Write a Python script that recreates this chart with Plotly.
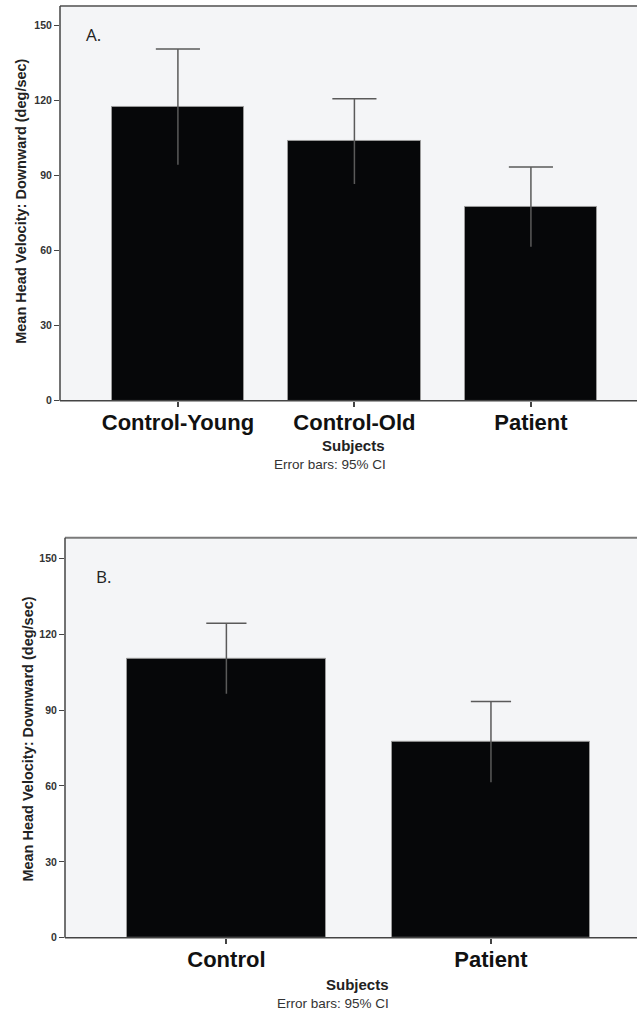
import plotly.graph_objects as go

# ---- data ----
groups_a = ["Control-Young", "Control-Old", "Patient"]
means_a = [117.3, 103.6, 77.4]
ci_hi_a = [140.5, 120.6, 93.4]
ci_lo_a = [94.3, 86.6, 61.5]

groups_b = ["Control", "Patient"]
means_b = [110.4, 77.4]
ci_hi_b = [124.3, 93.4]
ci_lo_b = [96.5, 61.5]

y_ticks = [0, 30, 60, 90, 120, 150]
y_title = "Mean Head Velocity: Downward (deg/sec)"

W, H = 637, 1019
BG = "#f4f5f7"
AX = "#444444"
EB = "#5a5a5a"

fig = go.Figure()


def add_panel(idx, groups, means, hi, lo, cap_half, bar_w):
    xa = "x" if idx == 1 else "x2"
    ya = "y" if idx == 1 else "y2"
    xs = list(range(len(groups)))
    fig.add_trace(go.Bar(
        x=xs, y=means, width=bar_w, xaxis=xa, yaxis=ya,
        marker=dict(color="#060709", line=dict(color="#9a9a9a", width=1)),
        showlegend=False, hoverinfo="skip"))
    # vertical whiskers
    fig.add_trace(go.Scatter(
        x=xs, y=means, mode="markers", xaxis=xa, yaxis=ya,
        marker=dict(size=1, color="rgba(0,0,0,0)"),
        error_y=dict(type="data", symmetric=False,
                     array=[h - m for h, m in zip(hi, means)],
                     arrayminus=[m - l for m, l in zip(means, lo)],
                     width=0, thickness=1.5, color=EB),
        showlegend=False, hoverinfo="skip"))
    # upper caps
    fig.add_trace(go.Scatter(
        x=xs, y=hi, mode="markers", xaxis=xa, yaxis=ya,
        marker=dict(size=1, color="rgba(0,0,0,0)"),
        error_x=dict(type="constant", value=cap_half, width=0,
                     thickness=1.5, color=EB),
        showlegend=False, hoverinfo="skip"))


add_panel(1, groups_a, means_a, ci_hi_a, ci_lo_a, 0.125, 0.75)
add_panel(2, groups_b, means_b, ci_hi_b, ci_lo_b, 0.076, 0.75)

# pixel layout helpers
def py(p):
    return 1 - p / H

def px(p):
    return p / W

ya_dom = [py(403), py(6)]
yb_dom = [py(943.3), py(541)]
xa_l = px(60)
xb_l = px(65)

common_y = dict(
    tickvals=y_ticks, ticktext=[f"<b>{v}</b>" for v in y_ticks],
    ticks="outside", ticklen=5, tickcolor=AX, tickwidth=1,
    tickfont=dict(family="Liberation Sans, Arial", size=10.5, color="#333"),
    showline=False, showgrid=False, zeroline=False, fixedrange=True)

common_x = dict(
    ticks="outside", ticklen=5, tickcolor=AX, tickwidth=1.5,
    ticklabelstandoff=-3,
    tickfont=dict(family="Liberation Sans, Arial", size=22, color="#111"),
    showline=False, showgrid=False, zeroline=False)

fig.update_layout(
    width=W, height=H,
    margin=dict(l=0, r=0, t=0, b=0),
    paper_bgcolor="white", plot_bgcolor=BG,
    bargap=0,
    xaxis=dict(common_x, domain=[xa_l, 1], anchor="y",
               range=[-0.668, 2.601],
               tickvals=list(range(len(groups_a))),
               ticktext=[f"<b>{g}</b>" for g in groups_a]),
    yaxis=dict(common_y, domain=ya_dom, anchor="x", range=[0, 157.7]),
    xaxis2=dict(common_x, domain=[xb_l, 1], anchor="y2",
                range=[-0.61, 1.552],
                tickvals=list(range(len(groups_b))),
                ticktext=[f"<b>{g}</b>" for g in groups_b]),
    yaxis2=dict(common_y, domain=yb_dom, anchor="x2", range=[0, 158.1]),
)

# frame lines: top (grey), left and bottom (axis lines)
for xl, dom in ((xa_l, ya_dom), (xb_l, yb_dom)):
    # the reference is cropped at the right: keep the right edge open
    fig.add_shape(type="rect", xref="paper", yref="paper", x0=1 - 3 / W, x1=1,
                  y0=dom[0] + 1 / H, y1=dom[1] - 1.5 / H,
                  fillcolor=BG, line=dict(width=0), layer="above")
    fig.add_shape(type="line", xref="paper", yref="paper", x0=xl, x1=1,
                  y0=dom[1], y1=dom[1], line=dict(color="#7a7a7a", width=2))
    fig.add_shape(type="line", xref="paper", yref="paper", x0=xl, x1=1,
                  y0=dom[0], y1=dom[0], line=dict(color=AX, width=1.5))
    fig.add_shape(type="line", xref="paper", yref="paper", x0=xl, x1=xl,
                  y0=dom[0], y1=dom[1], line=dict(color=AX, width=1.5))

ann_font = "Liberation Sans, Arial"
anns = [
    # panel A
    dict(text="<b>Subjects</b>", x=px(353), y=py(448), size=15, color="#222"),
    dict(text="Error bars: 95% CI", x=px(330), y=py(467), size=13.5, color="#333"),
    dict(text="<b>" + y_title + "</b>", x=px(21), y=py(203), size=14.5,
         color="#222", angle=-90),
    dict(text="A.", x=px(93), y=py(35), size=17, color="#222", family="Open Sans"),
    # panel B
    dict(text="<b>Subjects</b>", x=px(357), y=py(990), size=15, color="#222"),
    dict(text="Error bars: 95% CI", x=px(333), y=py(1009), size=13.5, color="#333"),
    dict(text="<b>" + y_title + "</b>", x=px(28), y=py(744), size=14.5,
         color="#222", angle=-90),
    dict(text="B.", x=px(103), y=py(580), size=17, color="#222", family="Open Sans"),
]
for a in anns:
    fig.add_annotation(
        text=a["text"], x=a["x"], y=a["y"], xref="paper", yref="paper",
        xanchor="center", yanchor="middle", showarrow=False,
        textangle=a.get("angle", 0),
        font=dict(family=a.get("family", ann_font), size=a["size"], color=a["color"]))

fig.write_html("out.html")
